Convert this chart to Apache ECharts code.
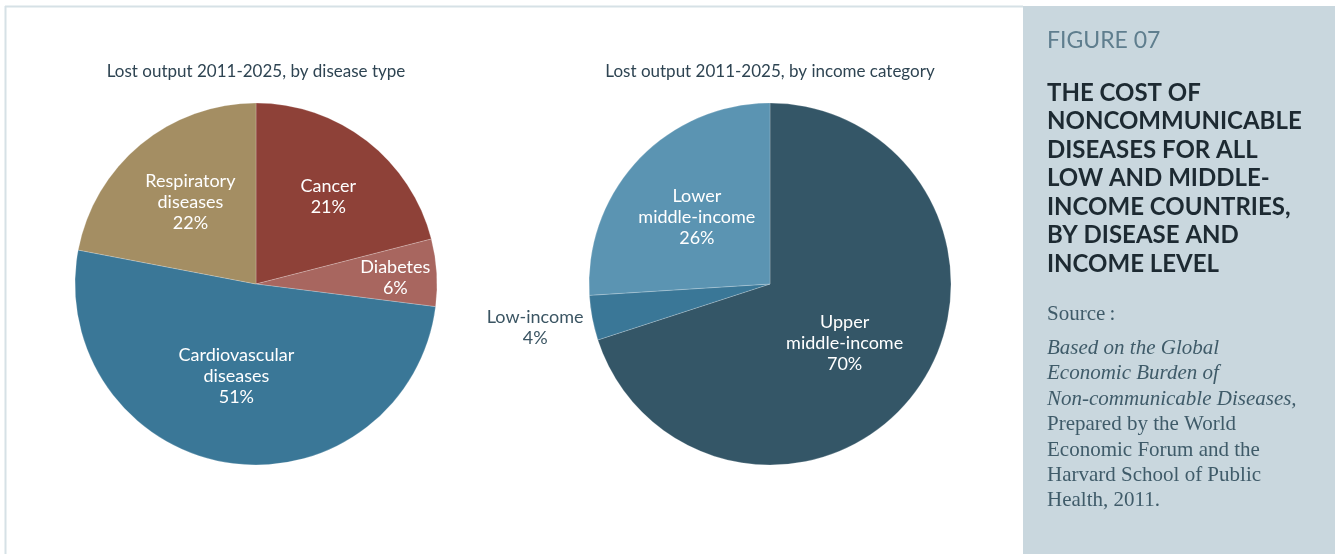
<!DOCTYPE html>
<html>
<head>
<meta charset="utf-8">
<script src="https://cdn.jsdelivr.net/npm/echarts@6/dist/echarts.min.js"></script>
<style>
html,body{margin:0;padding:0;background:#fff;}
#chart{width:1335px;height:554px;}
</style>
</head>
<body>
<div id="chart"></div>
<script>
// Data
const diseaseNames = ['Cancer', 'Diabetes', 'Cardiovascular\ndiseases', 'Respiratory\ndiseases'];
const diseaseValues = [21, 6, 51, 22];
const incomeNames = ['Upper\nmiddle-income', 'Low-income', 'Lower\nmiddle-income'];
const incomeValues = [70, 4, 26];
const chartTitles = ['Lost output 2011-2025, by disease type', 'Lost output 2011-2025, by income category'];
const figureLabel = 'FIGURE 07';
const headingLines = ['THE COST OF', 'NONCOMMUNICABLE', 'DISEASES FOR ALL', 'LOW AND MIDDLE-', 'INCOME COUNTRIES,', 'BY DISEASE AND', 'INCOME LEVEL'];
const sourceItalic = ['Based on the Global', 'Economic Burden of', 'Non-communicable Diseases,'];
const sourcePlain = ['Prepared by the World', 'Economic Forum and the', 'Harvard School of Public', 'Health, 2011.'];

const diseaseColors = ['#8e4138', '#a8665f', '#3a7797', '#a48e63'];
const diseaseOffsets = [[15, -13], [46, 0], [-5, 0], [-6, -10]];
const incomeColors = ['#345667', '#3a7797', '#5b94b2'];
const incomeOffsets = [[-1, 4], [-143, 26], [-5, -3]];
const incomeLabelColors = ['#ffffff', '#3b5563', '#ffffff'];

const chart = echarts.init(document.getElementById('chart'), null, {renderer: 'canvas'});

const lato = 'Lato, "Noto Sans", sans-serif';
const serif = '"Liberation Serif", "DejaVu Serif", serif';

function pieData(names, values, colors, offsets, labelColors) {
  return names.map((n, i) => ({
    name: n,
    value: values[i],
    itemStyle: {color: colors[i]},
    label: {
      offset: offsets[i],
      color: labelColors ? labelColors[i] : '#ffffff'
    }
  }));
}

const graphics = [];
// left panel border
graphics.push({type: 'line', shape: {x1: 5, y1: 6.5, x2: 1023, y2: 6.5}, style: {stroke: '#d6e1e6', lineWidth: 2}, silent: true});
graphics.push({type: 'line', shape: {x1: 5.5, y1: 6, x2: 5.5, y2: 554}, style: {stroke: '#d6e1e6', lineWidth: 2}, silent: true});
// right panel
graphics.push({type: 'rect', shape: {x: 1023, y: 6, width: 312, height: 548}, style: {fill: '#c9d7de'}, silent: true});
graphics.push({type: 'text', x: 1047, y: 29, style: {text: figureLabel, fill: '#5f7e8e', font: '23px ' + lato}, silent: true});
headingLines.forEach((t, i) => {
  graphics.push({type: 'text', x: 1047, y: 81 + i * 28.5, style: {text: t, fill: '#1d2a32', font: 'bold 24px ' + lato}, silent: true});
});
graphics.push({type: 'text', x: 1047, y: 304, style: {text: 'Source\u2009:', fill: '#3f5b69', font: '21px ' + serif}, silent: true});
sourceItalic.forEach((t, i) => {
  graphics.push({type: 'text', x: 1047, y: 338 + i * 25.4, style: {text: t, fill: '#3f5b69', font: 'italic 21px ' + serif}, silent: true});
});
sourcePlain.forEach((t, i) => {
  graphics.push({type: 'text', x: 1047, y: 338 + (i + 3) * 25.4, style: {text: t, fill: '#3f5b69', font: '21px ' + serif}, silent: true});
});

const labelBase = {
  show: true,
  position: 'inside',
  fontFamily: lato,
  fontSize: 18,
  lineHeight: 21,
  align: 'center',
  formatter: p => p.name + '\n' + p.value + '%'
};

chart.setOption({
  animation: false,
  backgroundColor: '#ffffff',
  title: [
    {text: chartTitles[0], left: 251, top: 58, textAlign: 'center', textStyle: {fontFamily: lato, fontSize: 17, fontWeight: 'normal', color: '#2e4452'}},
    {text: chartTitles[1], left: 765, top: 58, textAlign: 'center', textStyle: {fontFamily: lato, fontSize: 17, fontWeight: 'normal', color: '#2e4452'}}
  ],
  graphic: graphics,
  series: [
    {
      type: 'pie',
      center: [256, 284],
      radius: [0, 181],
      startAngle: 90,
      clockwise: true,
      avoidLabelOverlap: false,
      emphasis: {disabled: true},
      itemStyle: {borderColor: 'rgba(255,255,255,0.35)', borderWidth: 0.6},
      label: labelBase,
      labelLine: {show: false},
      data: pieData(diseaseNames, diseaseValues, diseaseColors, diseaseOffsets)
    },
    {
      type: 'pie',
      center: [770, 284],
      radius: [0, 181],
      startAngle: 90,
      clockwise: true,
      avoidLabelOverlap: false,
      emphasis: {disabled: true},
      itemStyle: {borderColor: 'rgba(255,255,255,0.35)', borderWidth: 0.6},
      label: labelBase,
      labelLine: {show: false},
      data: pieData(incomeNames, incomeValues, incomeColors, incomeOffsets, incomeLabelColors)
    }
  ]
});
</script>
</body>
</html>
